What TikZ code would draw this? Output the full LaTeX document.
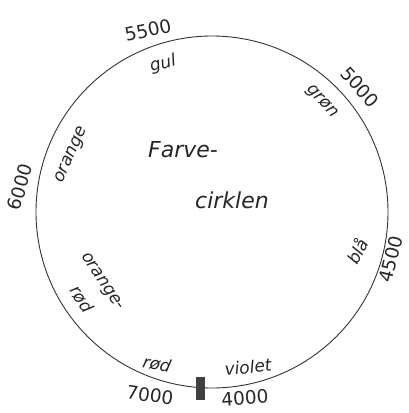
\documentclass[tikz,border=0pt]{standalone}
\usepackage{fontspec}
\setmainfont{DejaVu Sans}
\begin{document}
\begin{tikzpicture}[x=1pt,y=-1pt,
  hand/.style={font=\itshape\fontsize{17}{17}\selectfont, text=black!85, inner sep=0pt},
  num/.style={font=\fontsize{18.5}{18.5}\selectfont, text=black!85, inner sep=0pt},
  big/.style={font=\itshape\fontsize{22}{22}\selectfont, text=black!85, inner sep=0pt}]
\useasboundingbox (0,0) rectangle (408,413);
\node[draw=black!80, line width=0.9pt, circle, minimum size=352pt, inner sep=0pt] (c) at (212,212) {};
\node[fill=black!75, minimum width=9pt, minimum height=23pt, inner sep=0pt] (tick) at (200,388) {};
% numbers
\node[num, rotate=12] (n5500) at (148,30) {5500};
\node[num, rotate=-48] (n5000) at (360,87) {5000};
\node[num, rotate=74] (n6000) at (20,187) {6000};
\node[num, rotate=76] (n4500) at (391,259) {4500};
\node[num, rotate=-8] (n7000) at (150,395) {7000};
\node[num, rotate=4] (n4000) at (245,398) {4000};
% colour names
\node[hand, rotate=14] (gul) at (163,64) {gul};
\node[hand, rotate=-48] (gron) at (322,102) {grøn};
\node[hand, rotate=66] (orange) at (72,155) {orange};
\node[hand, rotate=62] (bla) at (357,251) {blå};
\node[hand, rotate=-56] (orr1) at (102,282) {orange-};
\node[hand, rotate=-56] (orr2) at (82,299) {rød};
\node[hand, rotate=-12] (rod) at (157,364) {rød};
\node[hand, rotate=6] (violet) at (248,367) {violet};
% title
\node[big] (t1) at (183,150) {Farve-};
\node[big] (t2) at (232,200) {cirklen};
\end{tikzpicture}
\end{document}
